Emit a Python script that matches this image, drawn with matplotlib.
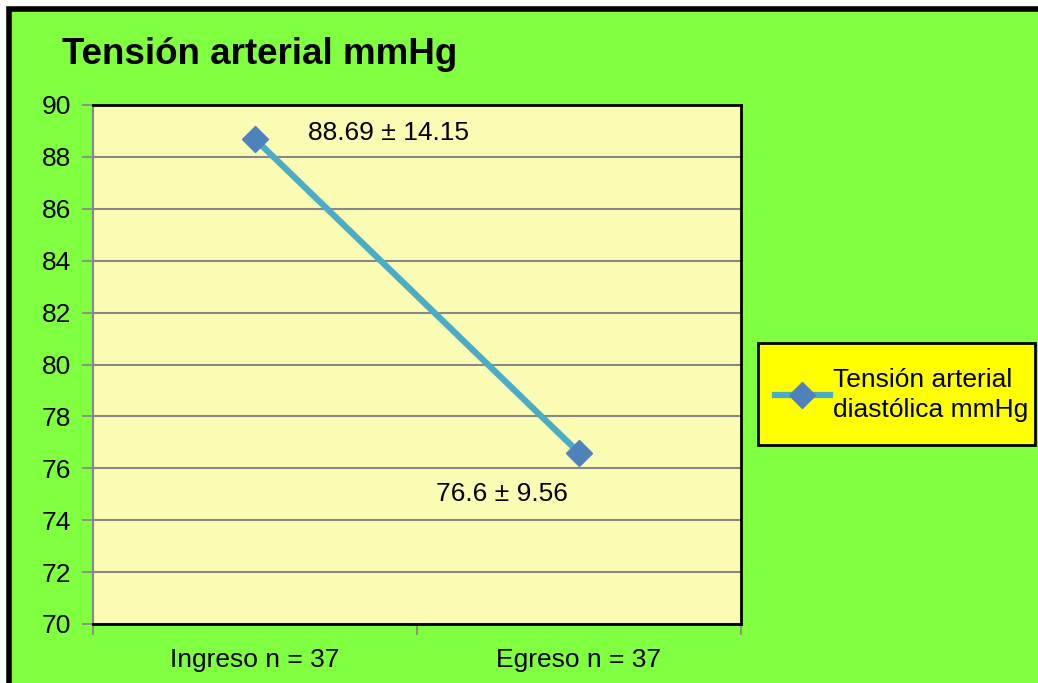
import matplotlib.pyplot as plt
from matplotlib.patches import Rectangle

plt.rcParams['font.family'] = ['Liberation Sans', 'DejaVu Sans']

categories = ['Ingreso n = 37', 'Egreso n = 37']
diastolica = [88.69, 76.6]
desviacion = [14.15, 9.56]
serie = 'Tensión arterial\ndiastólica mmHg'
titulo = 'Tensión arterial mmHg'

W, H = 1038, 683
fig = plt.figure(figsize=(W / 100, H / 100), dpi=100)
fig.patch.set_facecolor('white')

# green frame with black top/left border
fig.patches.append(Rectangle((9 / W, -0.05), 1.1, (H - 9) / H + 0.05,
                             transform=fig.transFigure, facecolor='#7FFF3F',
                             edgecolor='black', linewidth=4, zorder=-10))

ax = fig.add_axes([93 / W, 1 - 624 / H, (741 - 93) / W, (624 - 105) / H])
ax.set_facecolor('#FAFCB4')

x = [i + 0.5 for i in range(len(categories))]
ax.plot(x, diastolica, color='#4BACC6', linewidth=4.5, marker='D', markersize=13,
        markerfacecolor='#4F81BD', markeredgecolor='#4F81BD', label=serie, zorder=3)

# value ± sd labels, placed relative to each point
label_dx = [0.165, -0.44]
label_dy = [0.23, -1.6]
for xi, v, sd, dx, dy in zip(x, diastolica, desviacion, label_dx, label_dy):
    ax.text(xi + dx, v + dy, f'{v:g} ± {sd:g}', fontsize=19,
            ha='left', va='center', color='black')

ax.set_xlim(0, 2)
ax.set_ylim(70, 90)
ax.set_yticks(range(70, 91, 2))
ax.set_xticks([0, 1, 2])
ax.set_xticklabels([])
ax.set_xticks(x, minor=True)
ax.set_xticklabels(categories, minor=True)
ax.tick_params(axis='x', which='minor', length=0, pad=17, labelsize=19)
ax.tick_params(axis='x', which='major', length=8, color='#888888', width=1.2)
ax.tick_params(axis='y', length=8, color='#888888', width=1.2, labelsize=19, pad=8)
ax.yaxis.grid(True, color='#888888', linewidth=1.5)
ax.set_axisbelow(True)
ax.spines['left'].set_color('#888888')
ax.spines['left'].set_linewidth(1.5)
for s in ['top', 'right', 'bottom']:
    ax.spines[s].set_color('black')
    ax.spines[s].set_linewidth(2)

fig.text(62 / W, 1 - 55 / H, titulo, fontsize=26.5, fontweight='bold',
         ha='left', va='center')

# legend box (yellow, black edge) with the legend entry drawn on top
fig.patches.append(Rectangle((758 / W, 1 - 445 / H), (1035 - 758) / W, (445 - 343) / H,
                             transform=fig.transFigure, facecolor='#FFFF00',
                             edgecolor='black', linewidth=2, zorder=5))
handles, labels = ax.get_legend_handles_labels()
leg = fig.legend(handles, labels, loc='center left', bbox_to_anchor=(775 / W, 1 - 395 / H),
                 fontsize=19, frameon=False, handlelength=2.08, handletextpad=0.12,
                 borderpad=0, borderaxespad=0)
leg.set_zorder(6)
for t in leg.get_texts():
    t.set_linespacing(1.3)

fig.savefig('out.png', dpi=100, facecolor=fig.get_facecolor())
